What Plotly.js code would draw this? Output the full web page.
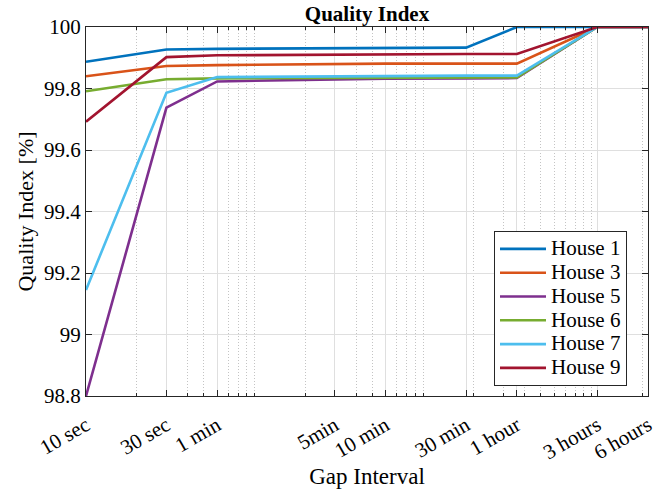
<!DOCTYPE html>
<html>
<head>
<meta charset="utf-8">
<script src="https://cdn.plot.ly/plotly-3.0.1.min.js"></script>
<style>html,body{margin:0;padding:0;background:#fff;}#chart{width:672px;height:489px;}</style>
</head>
<body>
<div id="chart"></div>
<script>
// Gap intervals in seconds
const gapSeconds = [10, 30, 60, 300, 600, 1800, 3600, 10800, 21600];
const tickLabels = ['10 sec', '30 sec', '1 min', '5min', '10 min', '30 min', '1 hour', '3 hours', '6 hours'];
const minorTickVals = [20, 30, 40, 50, 60, 70, 80, 90, 100, 200, 300, 400, 500, 600, 700, 800, 900, 1000,
  2000, 3000, 4000, 5000, 6000, 7000, 8000, 9000, 10000, 20000];
const yTickVals = [98.8, 99, 99.2, 99.4, 99.6, 99.8, 100];
const yTickLabels = ['98.8', '99', '99.2', '99.4', '99.6', '99.8', '100'];

const seriesNames = ['House 1', 'House 3', 'House 5', 'House 6', 'House 7', 'House 9'];
const house1 = [99.887, 99.927, 99.929, 99.931, 99.932, 99.933, 100, 100, 100];
const house3 = [99.840, 99.873, 99.876, 99.880, 99.881, 99.881, 99.881, 100, 100];
const house5 = [98.800, 99.738, 99.823, 99.831, 99.832, 99.833, 99.834, 100, 100];
const house6 = [99.791, 99.830, 99.833, 99.834, 99.835, 99.835, 99.836, 100, 100];
const house7 = [99.145, 99.786, 99.837, 99.840, 99.841, 99.842, 99.842, 100, 100];
const house9 = [99.692, 99.902, 99.908, 99.911, 99.912, 99.912, 99.912, 100, 100];
const seriesValues = [house1, house3, house5, house6, house7, house9];
const seriesColors = ['#0072BD', '#D95319', '#7E2F8E', '#77AC30', '#4DBEEE', '#A2142F'];

const font = 'Liberation Serif';

const traces = seriesNames.map((name, i) => ({
  x: gapSeconds,
  y: seriesValues[i],
  name: '<span style="font-size:21px">' + name + '</span>',
  type: 'scatter',
  mode: 'lines',
  line: {color: seriesColors[i], width: 2.6}
}));

const layout = {
  width: 672,
  height: 489,
  margin: {l: 86, r: 24, t: 27, b: 93},
  paper_bgcolor: '#fff',
  plot_bgcolor: '#fff',
  font: {family: font, size: 21, color: '#000'},
  title: {
    text: '<b>Quality Index</b>',
    font: {family: font, size: 21, color: '#000'},
    x: 0.5, xref: 'paper', xanchor: 'center',
    y: 1 - 14 / 489, yref: 'container', yanchor: 'middle'
  },
  xaxis: {
    type: 'log',
    range: [Math.log10(10), Math.log10(21600)],
    tickmode: 'array',
    tickvals: gapSeconds,
    ticktext: tickLabels,
    tickangle: -30,
    ticks: 'inside',
    ticklen: 6,
    tickwidth: 1,
    tickcolor: '#262626',
    ticklabelstandoff: 8,
    showline: true,
    linecolor: '#262626',
    linewidth: 1,
    mirror: 'ticks',
    showgrid: true,
    gridcolor: '#dfdfdf',
    gridwidth: 1,
    zeroline: false,
    tickfont: {family: font, size: 21, color: '#000'},
    title: {text: 'Gap Interval', font: {family: font, size: 23, color: '#000'}, standoff: 4},
    minor: {
      tickmode: 'array',
      tickvals: minorTickVals,
      ticks: 'inside',
      ticklen: 3,
      tickcolor: '#262626',
      showgrid: true,
      gridcolor: '#c4c4c4',
      gridwidth: 1,
      griddash: '1px,2px'
    }
  },
  yaxis: {
    range: [98.8, 100],
    tickmode: 'array',
    tickvals: yTickVals,
    ticktext: yTickLabels,
    ticks: 'inside',
    ticklen: 6,
    tickcolor: '#262626',
    showline: true,
    linecolor: '#262626',
    linewidth: 1,
    mirror: 'ticks',
    showgrid: true,
    gridcolor: '#dfdfdf',
    gridwidth: 1,
    zeroline: false,
    tickfont: {family: font, size: 21, color: '#000'},
    title: {text: 'Quality Index [%]', font: {family: font, size: 22, color: '#000'}, standoff: 4}
  },
  showlegend: true,
  legend: {
    x: (494 - 86) / 562, xanchor: 'left', xref: 'paper',
    y: (396 - 231) / 369, yanchor: 'top', yref: 'paper',
    bgcolor: '#fff',
    bordercolor: '#262626',
    borderwidth: 1,
    font: {family: font, size: 16, color: '#000'},
    itemwidth: 46,
    tracegroupgap: 0
  }
};

Plotly.newPlot('chart', traces, layout, {displayModeBar: false, staticPlot: true});
</script>
</body>
</html>
